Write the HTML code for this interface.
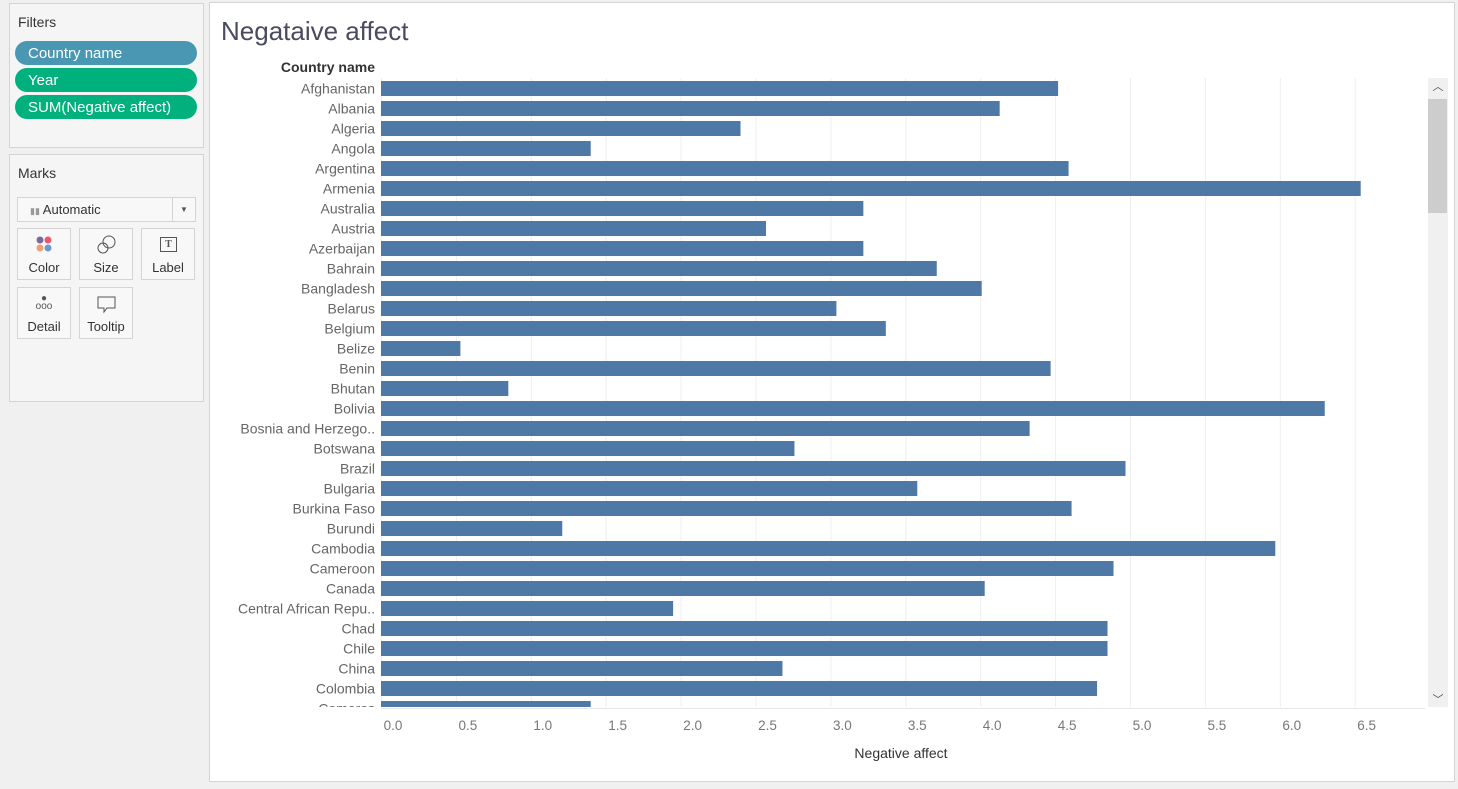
<!DOCTYPE html>
<html><head><meta charset="utf-8"><style>
body{margin:0;width:1458px;height:789px;background:#f0f0f0;position:relative;overflow:hidden;font-family:"Liberation Sans",sans-serif;}
.box{position:absolute;background:#f5f5f5;border:1px solid #d4d4d4;}
.pill{position:absolute;left:15px;width:182px;height:24px;border-radius:12px;color:#fff;font-size:15px;line-height:26px;padding-left:13px;box-sizing:border-box;}
.card{position:absolute;width:54px;height:52px;background:#f8f8f8;border:1px solid #d4d4d4;box-sizing:border-box;font-size:13px;color:#333;text-align:center;}
.card span{position:absolute;bottom:4px;left:0;right:0;}
</style></head><body>
<div class="box" style="left:9px;top:3px;width:193px;height:143px;">
 <div style="position:absolute;left:8px;top:10px;font-size:14px;color:#333;">Filters</div>
</div>
<div class="pill" style="top:41px;background:#4a97b4;">Country name</div>
<div class="pill" style="top:68px;background:#00b17d;">Year</div>
<div class="pill" style="top:95px;background:#00b17d;">SUM(Negative affect)</div>
<div class="box" style="left:9px;top:154px;width:193px;height:246px;">
 <div style="position:absolute;left:8px;top:10px;font-size:14px;color:#333;">Marks</div>
 <div style="position:absolute;left:7px;top:42px;width:177px;height:23px;background:#f8f8f8;border:1px solid #d4d4d4;font-size:13px;color:#333;line-height:23px;">
  <span style="color:#999;font-size:9px;margin-left:12px;">▮▮</span> Automatic
  <span style="position:absolute;right:0;top:0;width:22px;border-left:1px solid #d4d4d4;height:23px;text-align:center;font-size:8px;color:#555;">▼</span></div>
</div>
<div class="card" style="left:17px;top:228px;"><svg width="20" height="20" style="position:absolute;left:17px;top:6px"><circle cx="5" cy="5" r="3.5" fill="#7a6a9a"/><circle cx="13" cy="5" r="3.5" fill="#e85a6b"/><circle cx="5" cy="13" r="3.5" fill="#f0a070"/><circle cx="13" cy="13" r="3.5" fill="#6a9ad0"/></svg><span>Color</span></div>
<div class="card" style="left:79px;top:228px;"><svg width="22" height="22" style="position:absolute;left:16px;top:5px"><circle cx="13" cy="8" r="6" fill="none" stroke="#555"/><circle cx="7" cy="14" r="5" fill="none" stroke="#555"/></svg><span>Size</span></div>
<div class="card" style="left:141px;top:228px;"><div style="position:absolute;left:18px;top:8px;width:15px;height:13px;border:1px solid #555;font-size:10px;line-height:13px;font-family:'Liberation Serif',serif;font-weight:bold;color:#555">T</div><span>Label</span></div>
<div class="card" style="left:17px;top:287px;"><div style="position:absolute;left:0;right:0;top:7px;font-size:10px;color:#555;line-height:8px">●<br>ooo</div><span>Detail</span></div>
<div class="card" style="left:79px;top:287px;"><svg width="22" height="20" style="position:absolute;left:16px;top:7px"><path d="M2 2H19V13H11L8 17V13H2Z" fill="none" stroke="#555"/></svg><span>Tooltip</span></div>

<div style="position:absolute;left:209px;top:2px;width:1244px;height:778px;background:#fff;border:1px solid #d4d4d4;"></div>
<div style="position:absolute;left:221px;top:16px;font-size:26px;color:#4a4a60;">Negataive affect</div>
<div style="position:absolute;right:1083px;top:59px;font-size:14px;font-weight:600;color:#333;">Country name</div>
<svg id="chart" width="1458" height="789" style="position:absolute;left:0;top:0"></svg>
<div style="position:absolute;left:1428px;top:78px;width:20px;height:629px;background:#f0f0f0;">
 <div style="position:absolute;top:0;width:20px;text-align:center;font-size:11px;color:#555">︿</div>
 <div style="position:absolute;top:21px;left:0;width:19px;height:114px;background:#cdcdcd"></div>
 <div style="position:absolute;bottom:0;width:20px;text-align:center;font-size:11px;color:#555">﹀</div>
</div>
<script>
const countries=["Afghanistan","Albania","Algeria","Angola","Argentina","Armenia","Australia","Austria","Azerbaijan","Bahrain","Bangladesh","Belarus","Belgium","Belize","Benin","Bhutan","Bolivia","Bosnia and Herzego..","Botswana","Brazil","Bulgaria","Burkina Faso","Burundi","Cambodia","Cameroon","Canada","Central African Repu..","Chad","Chile","China","Colombia","Comoros"];
const values=[4.52,4.13,2.40,1.40,4.59,6.54,3.22,2.57,3.22,3.71,4.01,3.04,3.37,0.53,4.47,0.85,6.30,4.33,2.76,4.97,3.58,4.61,1.21,5.97,4.89,4.03,1.95,4.85,4.85,2.68,4.78,1.40];
const ticks=["0.0","0.5","1.0","1.5","2.0","2.5","3.0","3.5","4.0","4.5","5.0","5.5","6.0","6.5"];
const NS="http://www.w3.org/2000/svg";
const svg=document.getElementById('chart');
const x=v=>381+v*149.8;
const y=i=>81+i*20;
function mk(t,a,p){const e=document.createElementNS(NS,t);for(const k in a)e.setAttribute(k,a[k]);(p||svg).appendChild(e);return e;}
const clip=mk('clipPath',{id:'c'});
mk('rect',{x:0,y:78,width:1458,height:629},clip);
const g=mk('g',{'clip-path':'url(#c)'});
ticks.forEach(t=>{const l=mk('line',{x1:x(+t)+0.5,x2:x(+t)+0.5,y1:78,y2:708,stroke:'#efefef'},g);

});
mk('line',{x1:381,x2:1425,y1:708.5,y2:708.5,stroke:'#e6e6e6'});
countries.forEach((c,i)=>{
 const b=document.createElementNS(NS,'rect');
 b.setAttribute('x',381);b.setAttribute('y',y(i));b.setAttribute('width',x(values[i])-381);b.setAttribute('height',15);b.setAttribute('fill','#4e79a7');
 
 
 g.appendChild(b);
 const t=document.createElementNS(NS,'text');
 t.setAttribute('x',375);t.setAttribute('y',y(i)+12.5);t.setAttribute('text-anchor','end');t.setAttribute('font-size','14');t.setAttribute('fill','#666');t.setAttribute('font-family','Liberation Sans, sans-serif');
 t.textContent=c;
 
 
 g.appendChild(t);
});
ticks.forEach(t=>{const e=mk('text',{x:x(+t)+12,y:730,'text-anchor':'middle','font-size':'13.5',fill:'#777','font-family':'Liberation Sans, sans-serif'});e.textContent=t;

});
const at=mk('text',{x:901,y:758,'text-anchor':'middle','font-size':'14',fill:'#333','font-family':'Liberation Sans, sans-serif'});at.textContent='Negative affect';


</script>
</body></html>
